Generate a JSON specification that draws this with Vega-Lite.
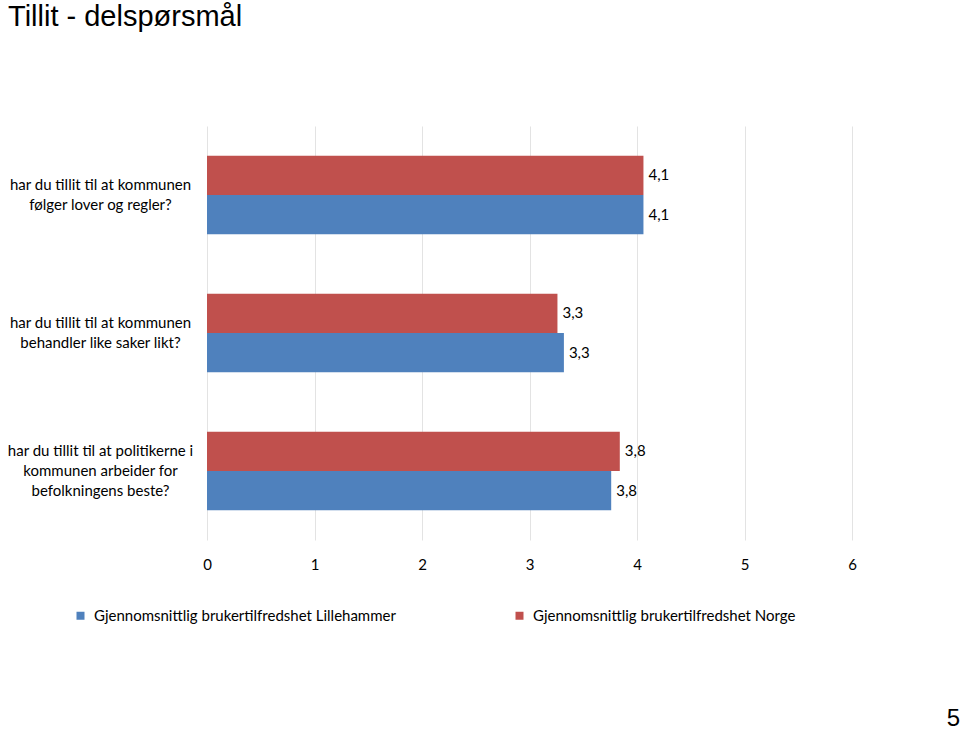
{
  "$schema": "https://vega.github.io/schema/vega-lite/v6.json",
  "width": 645,
  "height": 414,
  "autosize": "none",
  "padding": {"left": 207, "top": 126, "right": 108, "bottom": 189},
  "background": "white",
  "config": {
    "view": {"stroke": null},
    "locale": {"number": {"decimal": ",", "thousands": " ", "grouping": [3], "currency": ["", " kr"]}}
  },
  "title": {
    "text": "Tillit - delspørsmål",
    "anchor": "start",
    "frame": "group",
    "font": "Liberation Sans",
    "fontSize": 29,
    "fontWeight": "normal",
    "color": "#000000",
    "dx": -199,
    "offset": 94
  },
  "data": {
    "values": [
      {"q": "har du tillit til at kommunen|følger lover og regler?", "serie": "Gjennomsnittlig brukertilfredshet Norge", "v": 4.06},
      {"q": "har du tillit til at kommunen|følger lover og regler?", "serie": "Gjennomsnittlig brukertilfredshet Lillehammer", "v": 4.06},
      {"q": "har du tillit til at kommunen|behandler like saker likt?", "serie": "Gjennomsnittlig brukertilfredshet Norge", "v": 3.26},
      {"q": "har du tillit til at kommunen|behandler like saker likt?", "serie": "Gjennomsnittlig brukertilfredshet Lillehammer", "v": 3.32},
      {"q": "har du tillit til at politikerne i|kommunen arbeider for|befolkningens beste?", "serie": "Gjennomsnittlig brukertilfredshet Norge", "v": 3.84},
      {"q": "har du tillit til at politikerne i|kommunen arbeider for|befolkningens beste?", "serie": "Gjennomsnittlig brukertilfredshet Lillehammer", "v": 3.76}
    ]
  },
  "encoding": {
    "y": {
      "field": "q",
      "type": "nominal",
      "sort": null,
      "scale": {"paddingInner": 0.43, "paddingOuter": 0.215},
      "axis": {
        "title": null,
        "domain": false,
        "ticks": false,
        "labelExpr": "split(datum.label, '|')",
        "labelAlign": "center",
        "labelBaseline": "middle",
        "labelPadding": 107,
        "labelOffset": {"condition": {"test": "indexof(datum.value, 'politikerne') >= 0", "value": -20}, "value": -10},
        "labelFont": "Lato",
        "labelFontSize": 15,
        "labelColor": "#000000",
        "labelLineHeight": 20,
        "labelLimit": 300
      }
    },
    "yOffset": {
      "field": "serie",
      "type": "nominal",
      "sort": ["Gjennomsnittlig brukertilfredshet Norge", "Gjennomsnittlig brukertilfredshet Lillehammer"],
      "scale": {"paddingInner": 0, "paddingOuter": 0}
    },
    "x": {
      "field": "v",
      "type": "quantitative",
      "scale": {"domain": [0, 6], "nice": false},
      "axis": {
        "values": [0, 1, 2, 3, 4, 5, 6],
        "format": "d",
        "domain": false,
        "ticks": false,
        "grid": true,
        "gridColor": "#e3e3e3",
        "gridWidth": 1,
        "labelFont": "Lato",
        "labelFontSize": 15,
        "labelColor": "#000000",
        "labelPadding": 17,
        "labelFlush": false,
        "title": "5",
        "titleFont": "Liberation Sans",
        "titleFontSize": 24,
        "titleFontWeight": "normal",
        "titleColor": "#000000",
        "titleX": 746,
        "titleY": 185,
        "titleAlign": "center",
        "titleBaseline": "alphabetic"
      }
    }
  },
  "layer": [
    {
      "mark": {"type": "bar"},
      "encoding": {
        "color": {
          "field": "serie",
          "type": "nominal",
          "scale": {
            "domain": ["Gjennomsnittlig brukertilfredshet Lillehammer", "Gjennomsnittlig brukertilfredshet Norge"],
            "range": ["#4F81BD", "#C0504D"]
          },
          "legend": {
            "title": null,
            "orient": "none",
            "direction": "horizontal",
            "legendX": -134,
            "legendY": 482,
            "symbolType": "square",
            "symbolSize": 64,
            "symbolStrokeWidth": 0,
            "labelFont": "Lato",
            "labelFontSize": 15,
            "labelColor": "#000000",
            "labelLimit": 400,
            "columnPadding": 116,
            "labelOffset": 6
          }
        }
      }
    },
    {
      "mark": {"type": "text", "align": "left", "baseline": "middle", "dx": 5, "font": "Lato", "fontSize": 15, "color": "#000000"},
      "encoding": {
        "text": {"field": "v", "type": "quantitative", "format": ".1f"}
      }
    }
  ]
}
